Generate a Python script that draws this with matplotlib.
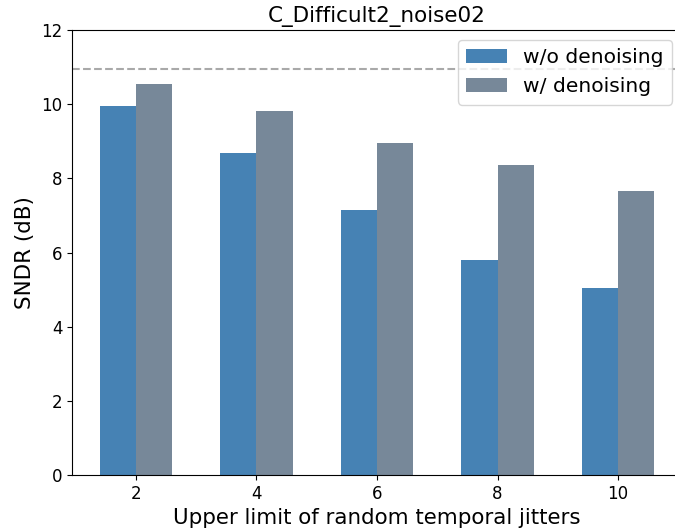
import numpy as np
import matplotlib
matplotlib.use("Agg")
import matplotlib.pyplot as plt

# Upper limit of jitter vs SNDR
jitters = [2, 4, 6, 8, 10]
sndr_noisy = [9.95, 8.68, 7.15, 5.80, 5.04]
sndr_denoised = [10.54, 9.82, 8.95, 8.36, 7.66]
reference_level = 10.95

x = np.array(jitters)
w = 0.6

fig = plt.figure(figsize=(6.75, 5.31), dpi=100)
ax = fig.add_axes([72 / 675, 56 / 531, 610 / 675, 445 / 531])

ax.bar(x - w / 2, sndr_noisy, width=w, color="steelblue", label="w/o denoising")
ax.bar(x + w / 2, sndr_denoised, width=w, color="lightslategray", label="w/ denoising")
ax.axhline(reference_level, color="darkgray", linestyle="--", linewidth=1.5)

ax.set_xticks(jitters)
ax.set_ylim(0, 12)
ax.set_xlim(0.94, 11.06)
ax.tick_params(labelsize=12)
ax.set_xlabel("Upper limit of random temporal jitters", fontsize=15.4)
ax.set_ylabel("SNDR (dB)", fontsize=15.4)
ax.set_title("C_Difficult2_noise02", fontsize=15.5)
ax.legend(loc="upper right", fontsize=14.6)

fig.savefig("out.png", dpi=100)
